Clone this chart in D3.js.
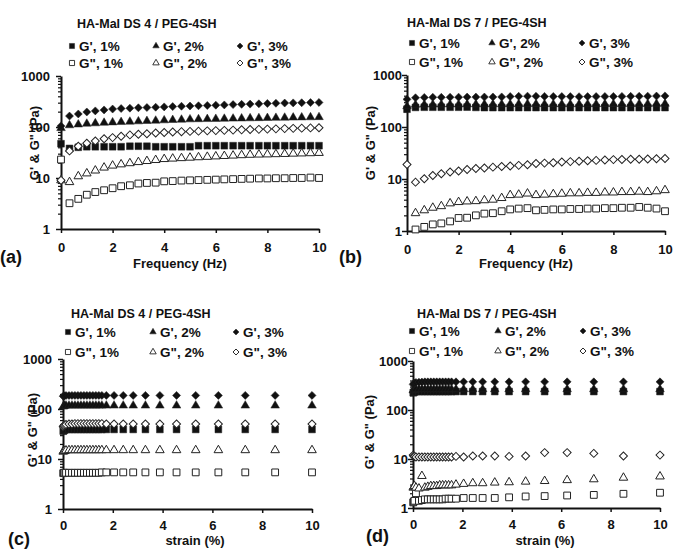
<!DOCTYPE html>
<html>
<head>
<meta charset="utf-8">
<script src="https://cdn.jsdelivr.net/npm/d3@7"></script>
<style>
body { margin: 0; background: #fff; }
text { font-family: "Liberation Sans", Arial, sans-serif; font-weight: bold; fill: #111; }
</style>
</head>
<body>
<svg id="fig" width="675" height="549"></svg>
<script>
// x values
var freqHz = [0, 0.33, 0.67, 1, 1.33, 1.67, 2, 2.33, 2.67, 3, 3.33, 3.67, 4, 4.33, 4.67, 5, 5.33, 5.67, 6, 6.33, 6.67, 7, 7.33, 7.67, 8, 8.33, 8.67, 9, 9.33, 9.67, 10];
var strainPct = [0.01, 0.03, 0.06, 0.12, 0.24, 0.36, 0.48, 0.6, 0.72, 0.84, 0.96, 1.08, 1.2, 1.32, 1.44, 1.56, 1.74, 2.05, 2.42, 2.82, 3.31, 3.89, 4.56, 5.33, 6.24, 7.32, 8.52, 10];

// (a) DS 4, frequency sweep
var aG1 = [47, 38, 40, 41, 41, 41, 41, 41, 42, 42, 42, 41, 41, 41, 41, 41, 43, 43, 43, 43, 43, 43, 43, 43, 43, 43, 43, 43, 43, 43, 43];
var aG2 = [95, 108, 112, 116, 118, 121, 123, 125, 127, 129, 131, 133, 135, 137, 139, 141, 142, 143, 144, 145, 146, 147, 148, 149, 150, 151, 152, 153, 154, 155, 156];
var aG3 = [105, 164, 180, 197, 207, 216, 225, 230, 234, 238, 241, 244, 248, 251, 255, 258, 261, 264, 268, 271, 275, 278, 281, 285, 289, 292, 295, 297, 299, 301, 303];
var aGp1 = [23, 3.2, 3.9, 4.7, 5.3, 5.75, 6.3, 6.9, 7.2, 7.8, 8.0, 8.1, 8.6, 8.7, 8.9, 9.0, 9.1, 9.2, 9.3, 9.4, 9.5, 9.6, 9.7, 9.8, 9.8, 9.9, 9.9, 10, 10, 10.2, 10];
var aGp2 = [9, 8.3, 10.8, 12.3, 14, 16, 17.5, 18.5, 19.5, 20.5, 21.5, 22.5, 23.5, 24, 24.5, 25, 25.5, 26, 26.5, 27, 27.5, 28, 28.5, 28.8, 29, 29.3, 29.6, 30, 30.3, 30.6, 31];
var aGp3 = [9, 34, 42, 48, 53, 59, 62, 66, 70, 72, 74, 76, 78, 80, 81, 82, 83, 84, 85, 86, 87, 88, 89, 90, 91, 92, 93, 94, 95, 96, 97];

// (b) DS 7, frequency sweep
var bG1 = [220, 238, 240, 240, 240, 240, 240, 241, 238, 236, 236, 236, 236, 236, 236, 236, 236, 236, 236, 236, 236, 236, 236, 236, 236, 236, 236, 236, 236, 236, 236];
var bG2 = [250, 268, 270, 271, 271, 272, 272, 273, 273, 273, 274, 274, 275, 276, 277, 276, 275, 275, 274, 274, 274, 275, 275, 276, 276, 277, 277, 278, 278, 279, 280];
var bG3 = [340, 365, 370, 372, 372, 374, 375, 376, 376, 377, 378, 379, 385, 390, 392, 390, 388, 386, 385, 384, 383, 384, 385, 386, 387, 388, 389, 390, 392, 394, 396];
var bGp1 = [null, 1.07, 1.2, 1.34, 1.4, 1.53, 1.78, 1.8, 2.0, 2.16, 2.2, 2.4, 2.6, 2.7, 2.75, 2.5, 2.55, 2.6, 2.6, 2.65, 2.65, 2.7, 2.7, 2.75, 2.75, 2.8, 2.8, 2.9, 2.8, 2.7, 2.4];
var bGp2 = [null, 2.2, 2.5, 2.8, 3.0, 3.4, 3.6, 3.7, 3.75, 3.9, 4.0, 4.3, 4.9, 5.0, 5.25, 4.9, 5.0, 5.1, 5.2, 5.3, 5.3, 5.4, 5.4, 5.5, 5.5, 5.6, 5.6, 5.7, 5.6, 5.8, 6.1];
var bGp3 = [19, 8.7, 10.1, 11.7, 12.6, 13.6, 14.3, 15.2, 15.9, 16.3, 16.9, 17.4, 17.8, 18.3, 18.8, 19.8, 20.2, 20.6, 21.2, 21.6, 22, 22.4, 22.8, 23.2, 23.6, 23.8, 24, 24, 24.3, 24.6, 24.7];

// (c) DS 4, strain sweep
var cG1 = [36, 37, 38, 39, 39, 39, 39, 39, 39, 39, 39, 39, 39, 39, 39, 39, 39, 39, 39, 39, 39, 39, 39, 39, 39, 39, 39, 39];
var cG2 = [112, 114, 116, 117, 117, 117, 117, 117, 117, 117, 117, 117, 117, 117, 117, 117, 117, 117, 117, 117, 117, 117, 117, 117, 117, 117, 117, 117];
var cG3 = [180, 182, 184, 186, 186, 187, 187, 187, 187, 187, 187, 187, 187, 187, 187, 187, 187, 187, 187, 187, 187, 187, 187, 187, 187, 187, 187, 187];
var cGp1 = [5.2, 5.3, 5.3, 5.3, 5.3, 5.3, 5.3, 5.3, 5.3, 5.3, 5.3, 5.3, 5.3, 5.3, 5.3, 5.4, 5.4, 5.4, 5.4, 5.4, 5.4, 5.4, 5.4, 5.4, 5.4, 5.4, 5.4, 5.4];
var cGp2 = [14, 14.5, 14.5, 14.8, 15, 15, 15, 15, 15, 15, 15, 15, 15, 15, 15, 15, 15, 15, 15, 15, 15, 15, 15, 15, 15, 15, 15, 15];
var cGp3 = [44, 46, 48, 49, 50, 50, 51, 51, 51, 51, 51, 51, 51, 51, 51, 51, 50, 50, 50, 50, 50, 50, 50, 50, 50, 50, 50, 50];

// (d) DS 7, strain sweep
var dG1 = [225, 230, 235, 238, 238, 238, 238, 238, 238, 238, 238, 238, 238, 238, 238, 238, 238, 238, 238, 238, 238, 238, 238, 238, 238, 238, 238, 238];
var dG2 = [250, 258, 262, 265, 265, 265, 265, 265, 265, 265, 265, 265, 265, 265, 265, 265, 265, 265, 265, 265, 265, 265, 265, 265, 265, 265, 265, 265];
var dG3 = [330, 345, 355, 365, 370, 372, 375, 375, 375, 375, 375, 375, 375, 375, 375, 375, 375, 375, 375, 375, 375, 375, 375, 375, 375, 375, 375, 375];
var dGp1 = [1.3, 1.35, 1.4, 2.0, 1.4, 1.45, 1.5, 1.5, 1.5, 1.5, 1.5, 1.5, 1.5, 1.55, 1.55, 1.55, 1.55, 1.6, 1.6, 1.6, 1.6, 1.65, 1.72, 1.75, 1.8, 1.85, 1.95, 2.05];
var dGp2 = [2.6, 2.7, 2.8, 2.6, 2.5, 4.5, 2.6, 2.7, 2.8, 2.8, 2.8, 2.9, 2.9, 2.9, 2.9, 2.9, 3.0, 3.1, 3.2, 3.2, 3.3, 3.35, 3.45, 3.55, 3.7, 3.85, 4.15, 4.4];
var dGp3 = [12, 11.5, 11.2, 11, 11, 11, 11, 11, 11, 11, 11, 11, 11, 11, 11, 11, 11.3, 11, 11.5, 11.5, 11.5, 11.3, 11.5, 13.5, 13.5, 13, 11.5, 12];

var seriesNames = ["G', 1%", "G', 2%", "G', 3%", 'G", 1%', 'G", 2%', 'G", 3%'];
var xTicks = [0, 2, 4, 6, 8, 10];
var yMajor = [1, 10, 100, 1000];

var svg = d3.select("#fig");

// shape + fill per series (filled for G', open for G")
var shapes = [d3.symbolSquare, d3.symbolTriangle, "diamond", d3.symbolSquare, d3.symbolTriangle, "diamond"];
var filled = [true, true, true, false, false, false];

function markerPath(i, big) {
	var s = shapes[i];
	if (s === "diamond") return d3.symbol().type(d3.symbolSquare).size(big ? 32 : 18)();
	if (s === d3.symbolTriangle) return d3.symbol().type(s).size(big ? 32 : 18)();
	return d3.symbol().type(s).size(big ? 46 : 26)();
}

function drawPanel(p) {
	var x = d3.scaleLinear().domain([0, 10]).range([p.x0, p.x1]);
	var y = d3.scaleLog().domain([1, 1000]).range([p.y0, p.y1]);
	var g = svg.append('g');

	// minor log ticks
	var minor = [];
	[1, 10, 100].forEach(function (dec) {
		for (var k = 2; k <= 9; k++) minor.push(dec * k);
	});
	g.append('g')
		.attr('transform', 'translate(' + p.x0 + ',0)')
		.call(d3.axisLeft(y).tickValues(minor).tickSize(3).tickFormat(''))
		.call(function (a) { a.select('.domain').remove(); })
		.selectAll('line').attr('stroke', '#111').attr('stroke-width', 1.2);

	var ya = g.append('g')
		.attr('transform', 'translate(' + p.x0 + ',0)')
		.call(d3.axisLeft(y).tickValues(yMajor).tickSize(5).tickSizeOuter(0).tickPadding(p.ypad).tickFormat(d3.format('d')));
	ya.select('.domain').attr('stroke', '#111').attr('stroke-width', 2);
	ya.selectAll('line').attr('stroke', '#111').attr('stroke-width', 1.5);
	ya.selectAll('text').attr('font-size', 13).attr('fill', '#111').style('font-family', null);

	var xa = g.append('g')
		.attr('transform', 'translate(0,' + p.y0 + ')')
		.call(d3.axisBottom(x).tickValues(xTicks).tickSize(4).tickSizeOuter(0).tickPadding(p.xpad));
	xa.select('.domain').attr('stroke', '#111').attr('stroke-width', 2);
	xa.selectAll('line').attr('stroke', '#111').attr('stroke-width', 1.5);
	xa.selectAll('text').attr('font-size', 13).attr('fill', '#111');

	// data markers, filled first then open on top
	[0, 1, 2, 3, 4, 5].forEach(function (i) {
		var pts = p.xs.map(function (v, j) { return [v, p.ys[i][j]]; })
			.filter(function (d) { return d[1] != null; });
		g.append('g').selectAll('path')
			.data(pts)
			.enter().append('path')
			.attr('d', markerPath(i, true))
			.attr('transform', function (d) {
				return 'translate(' + x(d[0]) + ',' + y(d[1]) + ')' + (shapes[i] === "diamond" ? ' rotate(45)' : '');
			})
			.attr('fill', filled[i] ? '#111' : '#fff')
			.attr('stroke', '#222')
			.attr('stroke-width', filled[i] ? 0.5 : 1);
	});

	// title + legend
	g.append('text').attr('x', p.tx).attr('y', p.ty).attr('font-size', 12.5).text(p.title);
	seriesNames.forEach(function (name, i) {
		var lx = p.lx[i % 3], ly = p.ly[Math.floor(i / 3)];
		g.append('path')
			.attr('d', markerPath(i, false))
			.attr('transform', 'translate(' + lx + ',' + ly + ')' + (shapes[i] === "diamond" ? ' rotate(45)' : ''))
			.attr('fill', filled[i] ? '#111' : '#fff')
			.attr('stroke', '#222')
			.attr('stroke-width', filled[i] ? 0.5 : 0.9);
		g.append('text').attr('x', lx + 7).attr('y', ly + 5).attr('font-size', 13.5).text(name);
	});

	// axis titles and panel letter
	g.append('text')
		.attr('transform', 'translate(' + p.ylx + ',' + p.yly + ') rotate(-90)')
		.attr('text-anchor', 'middle').attr('font-size', 13)
		.text('G\' & G" (Pa)');
	g.append('text').attr('x', p.xlx).attr('y', p.xly)
		.attr('text-anchor', 'middle').attr('font-size', 13).text(p.xlabel);
	g.append('text').attr('x', p.px).attr('y', p.py).attr('font-size', 18).text(p.letter);
}

drawPanel({
	x0: 61, x1: 319, y0: 229, y1: 76, ypad: 6, xpad: 10,
	xs: freqHz, ys: [aG1, aG2, aG3, aGp1, aGp2, aGp3],
	title: 'HA-Mal DS 4 / PEG-4SH', tx: 77, ty: 28,
	lx: [72, 156, 240], ly: [46, 63],
	ylx: 39, yly: 143, xlabel: 'Frequency (Hz)', xlx: 180, xly: 268,
	letter: '(a)', px: 0, py: 263
});
drawPanel({
	x0: 407, x1: 665, y0: 231, y1: 75, ypad: 0, xpad: 10,
	xs: freqHz, ys: [bG1, bG2, bG3, bGp1, bGp2, bGp3],
	title: 'HA-Mal DS 7 / PEG-4SH', tx: 407, ty: 27,
	lx: [412, 492, 582], ly: [43, 62],
	ylx: 375, yly: 143, xlabel: 'Frequency (Hz)', xlx: 526, xly: 268,
	letter: '(b)', px: 339, py: 263
});
drawPanel({
	x0: 63, x1: 312, y0: 509, y1: 359, ypad: 6, xpad: 8,
	xs: strainPct, ys: [cG1, cG2, cG3, cGp1, cGp2, cGp3],
	title: 'HA-Mal DS 4 / PEG-4SH', tx: 71, ty: 318,
	lx: [68, 153, 236], ly: [332, 352],
	ylx: 37, yly: 430, xlabel: 'strain (%)', xlx: 195, xly: 545,
	letter: '(c)', px: 8, py: 545
});
drawPanel({
	x0: 413, x1: 660, y0: 508, y1: 361, ypad: 0, xpad: 8,
	xs: strainPct, ys: [dG1, dG2, dG3, dGp1, dGp2, dGp3],
	title: 'HA-Mal DS 7 / PEG-4SH', tx: 417, ty: 318,
	lx: [412, 498, 583], ly: [331, 351],
	ylx: 374, yly: 432, xlabel: 'strain (%)', xlx: 545, xly: 545,
	letter: '(d)', px: 366, py: 542
});
</script>
</body>
</html>
